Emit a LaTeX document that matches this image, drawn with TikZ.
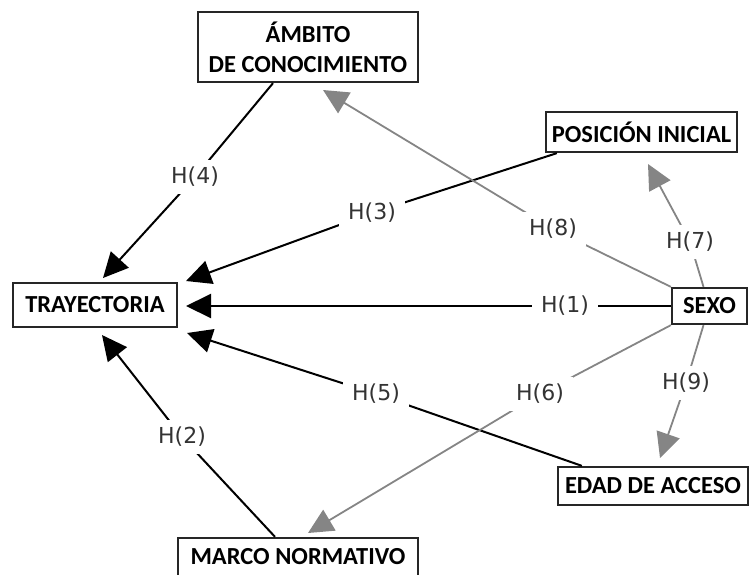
\documentclass[tikz,border=0pt]{standalone}
\usepackage{fontspec}
\setmainfont{Carlito}
\newfontfamily\lblfont{DejaVu Sans}
\usetikzlibrary{arrows.meta}
\begin{document}
\begin{tikzpicture}[x=1pt,y=-1pt,
  box/.style={draw=black!85, line width=2.3pt, fill=white, align=center,
    inner sep=0pt, font=\bfseries\fontsize{24.5}{30}\selectfont},
  lbl/.style={fill=white, text=black!80, inner xsep=9pt, inner ysep=7pt,
    font=\lblfont\fontsize{22}{25}\selectfont},
  blk/.style={draw=black, line width=2pt, line join=round,
    -{Triangle[length=25pt,width=24pt]}},
  gry/.style={draw=black!48, line width=1.8pt, line join=round,
    -{Triangle[length=25pt,width=24pt]}}
]
\useasboundingbox (0,0) rectangle (752,574);

% variables
\node[box, minimum width=220pt, minimum height=70pt] (ambito) at (308,47) {ÁMBITO\\DE CONOCIMIENTO};
\node[box, minimum width=191pt, minimum height=40pt] (pos) at (641.5,132) {POSICIÓN INICIAL};
\node[box, minimum width=164pt, minimum height=44pt] (tray) at (95,305) {TRAYECTORIA};
\node[box, minimum width=75pt, minimum height=36pt] (sexo) at (709.5,306) {SEXO};
\node[box, minimum width=190pt, minimum height=38pt] (edad) at (653,486) {EDAD DE ACCESO};
\node[box, minimum width=240pt, minimum height=38pt] (marco) at (298,557) {MARCO NORMATIVO};

% label positions
\coordinate (l1) at (565,306);
\coordinate (l2) at (182,437);
\coordinate (l3) at (372,213);
\coordinate (l4) at (195,177);
\coordinate (l5) at (376,394);
\coordinate (l6) at (540,394);
\coordinate (l7) at (690,242);
\coordinate (l8) at (553,229);
\coordinate (l9) at (686,383);

% arrow tips
\coordinate (t1) at (186,306);
\coordinate (t2) at (102,335);
\coordinate (t3) at (186,281);
\coordinate (t4) at (103,278);
\coordinate (t5) at (187,333);
\coordinate (t6) at (308,533);
\coordinate (t7) at (648,164);
\coordinate (t8) at (323,90);
\coordinate (t9) at (660,458);

% hypotheses
\draw[blk] (sexo.west) -- (l1) -- (t1);
\draw[blk] ([xshift=-23pt]marco.north) -- (l2) -- (t2);
\draw[blk] ([xshift=12pt]pos.south west) -- (l3) -- (t3);
\draw[blk] ([xshift=-35pt]ambito.south) -- (l4) -- (t4);
\draw[blk] ([xshift=25pt]edad.north west) -- (l5) -- (t5);
\draw[gry] (sexo.south west) -- (l6) -- (t6);
\draw[gry] ([xshift=-6pt]sexo.north) -- (l7) -- (t7);
\draw[gry] (sexo.north west) -- (l8) -- (t8);
\draw[gry] ([xshift=-6pt]sexo.south) -- (l9) -- (t9);

\node[lbl] (h1) at (l1) {H(1)};
\node[lbl] (h2) at (l2) {H(2)};
\node[lbl] (h3) at (l3) {H(3)};
\node[lbl] (h4) at (l4) {H(4)};
\node[lbl] (h5) at (l5) {H(5)};
\node[lbl] (h6) at (l6) {H(6)};
\node[lbl] (h7) at (l7) {H(7)};
\node[lbl] (h8) at (l8) {H(8)};
\node[lbl] (h9) at (l9) {H(9)};
\end{tikzpicture}
\end{document}
